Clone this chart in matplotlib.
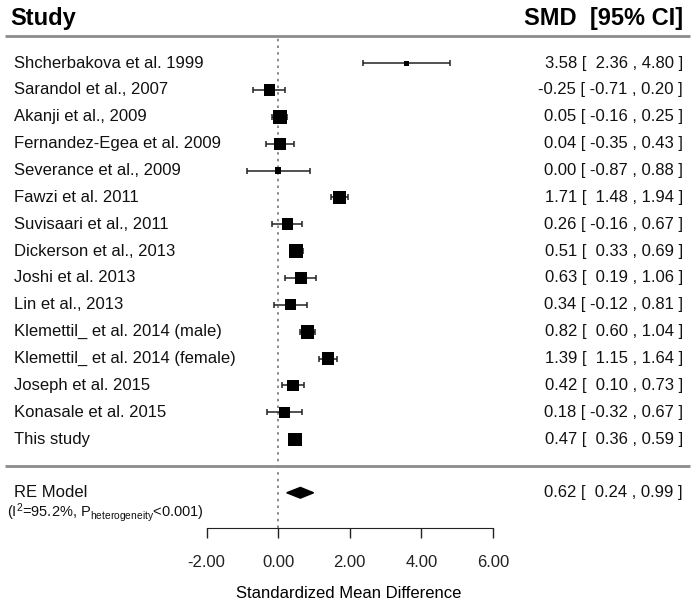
import numpy as np
import matplotlib
matplotlib.use("Agg")
import matplotlib.pyplot as plt

plt.rcParams['font.family'] = ['Liberation Sans', 'DejaVu Sans']
plt.rcParams['mathtext.fontset'] = 'custom'
plt.rcParams['mathtext.rm'] = 'Liberation Sans'
plt.rcParams['mathtext.it'] = 'Liberation Sans:italic'
plt.rcParams['mathtext.bf'] = 'Liberation Sans:bold'

# data
studies = [
    "Shcherbakova et al. 1999",
    "Sarandol et al., 2007",
    "Akanji et al., 2009",
    "Fernandez-Egea et al. 2009",
    "Severance et al., 2009",
    "Fawzi et al. 2011",
    "Suvisaari et al., 2011",
    "Dickerson et al., 2013",
    "Joshi et al. 2013",
    "Lin et al., 2013",
    "Klemettil_ et al. 2014 (male)",
    "Klemettil_ et al. 2014 (female)",
    "Joseph et al. 2015",
    "Konasale et al. 2015",
    "This study",
]
smd = [3.58, -0.25, 0.05, 0.04, 0.00, 1.71, 0.26, 0.51, 0.63, 0.34, 0.82, 1.39, 0.42, 0.18, 0.47]
ci_low = [2.36, -0.71, -0.16, -0.35, -0.87, 1.48, -0.16, 0.33, 0.19, -0.12, 0.60, 1.15, 0.10, -0.32, 0.36]
ci_high = [4.80, 0.20, 0.25, 0.43, 0.88, 1.94, 0.67, 0.69, 1.06, 0.81, 1.04, 1.64, 0.73, 0.67, 0.59]
# approximate study weights (%) judged from the square sizes
weights = [4.5, 6.6, 7.6, 6.9, 5.0, 7.3, 6.8, 7.6, 6.9, 6.6, 7.5, 7.1, 6.8, 6.6, 7.3]

re_est = 0.62
re_low = 0.24
re_high = 0.99
re_label = "RE Model"
het_label = r"(I$^{2}$=95.2%, P$_{\mathrm{heterogeneity}}$<0.001)"

ticks = [-2, 0, 2, 4, 6]
xlabel = "Standardized Mean Difference"

k = len(studies)
rows = np.arange(k, 0, -1)
est = np.array(smd)
lo = np.array(ci_low)
hi = np.array(ci_high)
w = np.array(weights)

fig = plt.figure(figsize=(6.97, 6.01), dpi=100)
ax = fig.add_axes([0, 0, 1, 1])
ax.set_xlim(-7.77, 11.70)
ax.set_ylim(-5.03, 17.35)

axis_row = -2.3

# reference line at zero
ax.vlines(0, axis_row, k + 1, colors='#777777', linestyles=(0, (1.5, 2.5)), linewidth=1.2)

# horizontal rules
ax.hlines([k + 1, 0], -7.62, 11.5, colors='#8c8c8c', linewidth=2)

# confidence intervals
ax.errorbar(est, rows, xerr=[est - lo, hi - est], fmt='none', ecolor='#222222',
            elinewidth=1.1, capsize=2.3, capthick=1.1)

# squares sized by weight
side_px = 5 + (w - w.min()) / (w.max() - w.min()) * 9
ax.scatter(est, rows, marker='s', s=(side_px * 0.72) ** 2, color='black', zorder=3,
           linewidths=0)

# summary diamond
dh = 0.2
ax.fill([re_low, re_est, re_high, re_est], [-1, -1 + dh, -1, -1 - dh], color='black', zorder=3)

# left and right text columns
for r, name in zip(rows, studies):
    ax.text(-7.38, r, name, ha='left', va='center', fontsize=12, color='#111111')
for r, e, l, h in zip(rows, est, lo, hi):
    ax.text(11.3, r, f"{e:.2f} [{l:6.2f} , {h:.2f} ]", ha='right', va='center',
            fontsize=12, color='#111111')

ax.text(-7.38, -0.98, re_label, ha='left', va='center', fontsize=12, color='#111111')
ax.text(-7.58, -1.72, het_label, ha='left', va='center', fontsize=10.5, color='#111111')
ax.text(11.3, -1, f"{re_est:.2f} [{re_low:6.2f} , {re_high:.2f} ]", ha='right', va='center',
        fontsize=12, color='#111111')

# header
ax.text(-7.48, 16.42, "Study", ha='left', va='baseline', fontsize=17, fontweight='bold')
ax.text(11.3, 16.42, "SMD  [95% CI]", ha='right', va='baseline', fontsize=17, fontweight='bold')

# x axis
for side in ['left', 'right', 'top']:
    ax.spines[side].set_visible(False)
ax.spines['bottom'].set_position(('data', axis_row))
ax.spines['bottom'].set_bounds(ticks[0], ticks[-1])
ax.spines['bottom'].set_color('#222222')
ax.set_yticks([])
ax.set_xticks(ticks)
ax.set_xticklabels([f"{t:.2f}" for t in ticks])
ax.tick_params(axis='x', direction='out', length=7.5, width=1, pad=12, labelsize=12,
               colors='#222222')
ax.set_xlabel(xlabel, fontsize=12, labelpad=12)

fig.savefig("out.png", dpi=100)
